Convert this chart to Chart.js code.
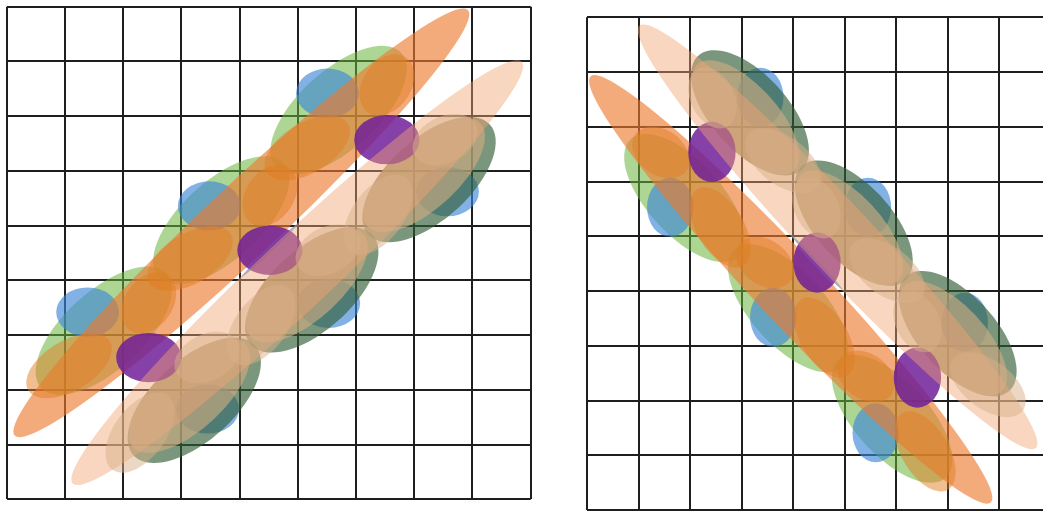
<!DOCTYPE html>
<html>
<head>
<meta charset="utf-8">
<script src="https://cdn.jsdelivr.net/npm/chart.js@4/dist/chart.umd.min.js"></script>
<style>
  html, body { margin: 0; padding: 0; background: #fff; overflow: hidden; width: 1043px; height: 511px; }
  canvas { position: absolute; top: 0; }
  #left { left: 0; }
  #right { left: 575px; }
</style>
</head>
<body>
<canvas id="left" width="545" height="511"></canvas>
<canvas id="right" width="490" height="530"></canvas>
<script>
// Each ellipse: [centre x, centre y, semi-axis a, semi-axis b, angle of a (deg, data space)]
const gridMin = 0;
const gridMax = 9;

// ---- left panel: correlation running up to the right ----
const leftGreenOuter = [
  [1.667, 3.081, 1.50, 0.70, 45],
  [3.684, 5.098, 1.50, 0.70, 45],
  [5.699, 7.114, 1.50, 0.70, 45]
];
const leftBlue = [
  [1.39, 3.42, 0.54, 0.45, 0],
  [3.48, 5.36, 0.54, 0.45, 0],
  [5.51, 7.42, 0.54, 0.45, 0],
  [3.45, 1.65, 0.54, 0.45, 0],
  [5.53, 3.58, 0.54, 0.45, 0],
  [7.57, 5.62, 0.54, 0.45, 0],
  [4.52, 4.55, 0.70, 0.035, 45]
];
const leftGreenInner = [
  [3.222, 1.808, 1.45, 0.72, 45],
  [5.240, 3.825, 1.45, 0.72, 45],
  [7.255, 5.841, 1.45, 0.72, 45]
];
const leftKhaki = [
  [3.137, 1.893, 1.35, 0.60, 45],
  [5.155, 3.910, 1.35, 0.60, 45],
  [7.170, 5.926, 1.35, 0.60, 45]
];
const leftWideOrange = [[4.03, 5.05, 5.50, 0.64, 45]];
const leftOrange = [
  [1.07, 2.44, 0.83, 0.45, 33.7],
  [3.15, 4.40, 0.83, 0.45, 33.7],
  [5.16, 6.42, 0.83, 0.45, 33.7],
  [2.44, 3.59, 0.60, 0.42, 60],
  [4.52, 5.55, 0.60, 0.42, 60],
  [6.53, 7.57, 0.60, 0.42, 60]
];
const leftPurple = [
  [2.44, 2.59, 0.56, 0.45, 0],
  [4.52, 4.55, 0.56, 0.45, 0],
  [6.53, 6.57, 0.56, 0.45, 0]
];
const leftWidePeach = [[4.99, 4.14, 5.45, 0.64, 45]];
const leftTan = [
  [2.29, 1.22, 0.83, 0.45, 56.3],
  [4.37, 3.18, 0.83, 0.45, 56.3],
  [6.38, 5.20, 0.83, 0.45, 56.3],
  [3.44, 2.59, 0.60, 0.42, 30],
  [5.52, 4.55, 0.60, 0.42, 30],
  [7.53, 6.57, 0.60, 0.42, 30]
];

// ---- right panel: correlation running down to the right ----
const rightGreenOuter = [
  [5.919, 1.667, 1.50, 0.70, 135],
  [3.902, 3.684, 1.50, 0.70, 135],
  [1.886, 5.699, 1.50, 0.70, 135]
];
const rightBlue = [
  [5.60, 1.41, 0.45, 0.54, 0],
  [3.61, 3.52, 0.45, 0.54, 0],
  [1.61, 5.53, 0.45, 0.54, 0],
  [7.33, 3.43, 0.45, 0.54, 0],
  [5.45, 5.53, 0.45, 0.54, 0],
  [3.36, 7.54, 0.45, 0.54, 0],
  [4.46, 4.52, 0.70, 0.035, 135]
];
const rightGreenInner = [
  [7.192, 3.222, 1.45, 0.72, 135],
  [5.175, 5.240, 1.45, 0.72, 135],
  [3.159, 7.255, 1.45, 0.72, 135]
];
const rightKhaki = [
  [7.107, 3.137, 1.35, 0.60, 135],
  [5.090, 5.155, 1.35, 0.60, 135],
  [3.074, 7.170, 1.35, 0.60, 135]
];
const rightWideOrange = [[3.95, 4.03, 5.50, 0.64, 135]];
const rightOrange = [
  [6.56, 1.07, 0.83, 0.45, 123.7],
  [4.60, 3.15, 0.83, 0.45, 123.7],
  [2.58, 5.16, 0.83, 0.45, 123.7],
  [5.41, 2.44, 0.60, 0.42, 150],
  [3.45, 4.52, 0.60, 0.42, 150],
  [1.43, 6.53, 0.60, 0.42, 150]
];
const rightPurple = [
  [6.41, 2.42, 0.46, 0.55, 0],
  [4.46, 4.52, 0.46, 0.55, 0],
  [2.42, 6.54, 0.46, 0.55, 0]
];
const rightWidePeach = [[4.86, 4.99, 5.45, 0.64, 135]];
const rightTan = [
  [7.78, 2.29, 0.83, 0.45, 146.3],
  [5.82, 4.37, 0.83, 0.45, 146.3],
  [3.80, 6.38, 0.83, 0.45, 146.3],
  [6.41, 3.44, 0.60, 0.42, 120],
  [4.45, 5.52, 0.60, 0.42, 120],
  [2.43, 7.53, 0.60, 0.42, 120]
];

// fill colours
const layerColors = {
  greenOuter: 'rgba(105, 180, 60, 0.55)',
  blue:       'rgba(60, 135, 215, 0.64)',
  greenInner: 'rgba(50, 95, 55, 0.65)',
  khaki:      'rgba(205, 170, 130, 0.65)',
  wideOrange: 'rgba(238, 122, 48, 0.63)',
  orange:     'rgba(225, 125, 35, 0.5)',
  purple:     'rgba(112, 32, 152, 0.85)',
  widePeach:  'rgba(242, 165, 115, 0.45)',
  tan:        'rgba(215, 175, 135, 0.5)'
};

function toPoints(list) {
  return list.map(e => ({ x: e[0], y: e[1], a: e[2], b: e[3], t: e[4] }));
}

function buildDatasets(layers) {
  return layers.map(([name, list]) => ({
    label: name,
    data: toPoints(list),
    backgroundColor: layerColors[name],
    pointRadius: 0,
    pointHoverRadius: 0
  }));
}

// draws every point of every dataset as an ellipse in data space, bottom layer first
const ellipsePlugin = {
  id: 'ellipses',
  afterDatasetsDraw(chart) {
    const ctx = chart.ctx;
    const xs = chart.scales.x, ys = chart.scales.y;
    const area = chart.chartArea;
    const sx = xs.getPixelForValue(1) - xs.getPixelForValue(0);
    const sy = ys.getPixelForValue(0) - ys.getPixelForValue(1);
    ctx.save();
    ctx.beginPath();
    ctx.rect(area.left, area.top, area.right - area.left, area.bottom - area.top);
    ctx.clip();
    chart.data.datasets.forEach(ds => {
      ctx.fillStyle = ds.backgroundColor;
      ds.data.forEach(p => {
        ctx.save();
        ctx.translate(xs.getPixelForValue(p.x), ys.getPixelForValue(p.y));
        ctx.scale(sx, -sy);
        ctx.rotate(p.t * Math.PI / 180);
        ctx.scale(p.a, p.b);
        ctx.beginPath();
        ctx.arc(0, 0, 1, 0, Math.PI * 2);
        ctx.restore();
        ctx.fill();
      });
    });
    ctx.restore();
  }
};

function axis() {
  return {
    type: 'linear',
    min: gridMin,
    max: gridMax,
    ticks: { display: false, stepSize: 1 },
    grid: { color: '#1e1e1e', lineWidth: 2, drawTicks: false },
    border: { display: false }
  };
}

function makeChart(id, layers, padding) {
  return new Chart(document.getElementById(id), {
    type: 'scatter',
    data: { datasets: buildDatasets(layers) },
    options: {
      responsive: false,
      animation: false,
      devicePixelRatio: 1,
      events: [],
      layout: { padding },
      plugins: { legend: { display: false }, tooltip: { enabled: false } },
      scales: { x: axis(), y: axis() }
    },
    plugins: [ellipsePlugin]
  });
}

makeChart('left', [
  ['greenOuter', leftGreenOuter],
  ['blue', leftBlue],
  ['greenInner', leftGreenInner],
  ['khaki', leftKhaki],
  ['wideOrange', leftWideOrange],
  ['orange', leftOrange],
  ['purple', leftPurple],
  ['widePeach', leftWidePeach],
  ['tan', leftTan]
], { left: 6.7, top: 6.7, right: 14.3, bottom: 11.7 });

makeChart('right', [
  ['greenOuter', rightGreenOuter],
  ['blue', rightBlue],
  ['greenInner', rightGreenInner],
  ['khaki', rightKhaki],
  ['wideOrange', rightWideOrange],
  ['orange', rightOrange],
  ['purple', rightPurple],
  ['widePeach', rightWidePeach],
  ['tan', rightTan]
], { left: 12.3, top: 17.3, right: 14.2, bottom: 20 });
</script>
</body>
</html>
